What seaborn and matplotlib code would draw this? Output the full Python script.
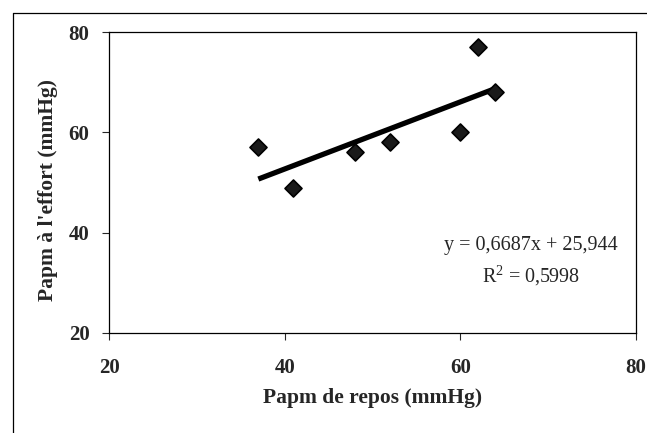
import numpy as np
import pandas as pd
import seaborn as sns
import matplotlib.pyplot as plt
from matplotlib.lines import Line2D

# values
papm_repos = [37, 41, 48, 52, 60, 62, 64]
papm_effort = [57, 49, 56, 58, 60, 77, 68]
ticks = [20, 40, 60, 80]
equation = "y = 0,6687x + 25,944"
r2_text = "R$^2$ = 0,5998"

df = pd.DataFrame({"repos": papm_repos, "effort": papm_effort})

sns.set_style("ticks")
plt.rcParams['font.family'] = ['Liberation Serif', 'DejaVu Serif']
plt.rcParams['mathtext.fontset'] = 'custom'
plt.rcParams['mathtext.rm'] = 'Liberation Serif'

fig = plt.figure(figsize=(6.47, 4.33), dpi=100)
ax = fig.add_axes([109/647, 1 - 333/433, 527/647, 301/433])

# fitted line first, markers on top
sns.regplot(data=df, x="repos", y="effort", ax=ax, scatter=False, ci=None,
            color="black", line_kws={"linewidth": 3.8, "solid_capstyle": "butt"})
sns.scatterplot(data=df, x="repos", y="effort", ax=ax, marker="D", s=75,
                color="#1a1a1a", edgecolor="black", linewidth=1.2, zorder=3)

ax.set_xlim(20, 80)
ax.set_ylim(20, 80)
ax.set_xticks(ticks)
ax.set_yticks(ticks)
ax.tick_params(axis="both", direction="out", length=5, width=0.8, labelsize=15)
ax.tick_params(axis="y", pad=9)
ax.tick_params(axis="x", pad=13)
for lab in ax.get_xticklabels() + ax.get_yticklabels():
    lab.set_fontweight("bold")
for s in ax.spines.values():
    s.set_linewidth(0.9)
    s.set_color("black")

ax.set_xlabel("Papm de repos (mmHg)", fontsize=15.5, fontweight="bold", va="center")
ax.set_ylabel("Papm à l'effort (mmHg)", fontsize=15.5, fontweight="bold", va="center")
ax.xaxis.set_label_coords(0.50, -0.216)
ax.yaxis.set_label_coords(-0.116, 0.475)

ax.text(0.80, 0.29, equation, transform=ax.transAxes, ha="center", va="center", fontsize=14.5)
ax.text(0.80, 0.19, r2_text, transform=ax.transAxes, ha="center", va="center", fontsize=14.5)

# outer chart frame (cut off at right and bottom)
fig.add_artist(Line2D([13/647, 13/647], [0, 1 - 13/433], color="black", linewidth=0.9,
                      transform=fig.transFigure))
fig.add_artist(Line2D([13/647, 1], [1 - 13/433, 1 - 13/433], color="black", linewidth=0.9,
                      transform=fig.transFigure))

fig.savefig("out.png", dpi=100, facecolor="white")
